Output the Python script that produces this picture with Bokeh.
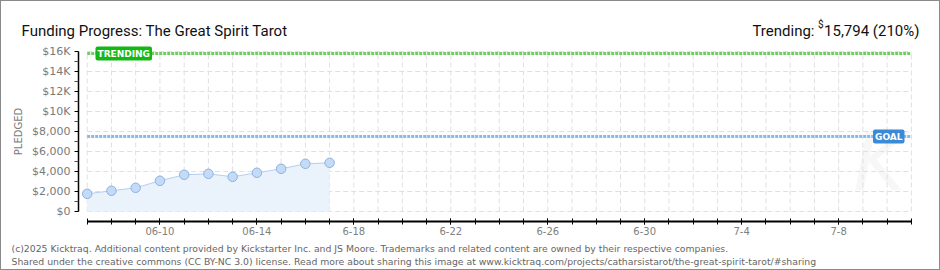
from bokeh.plotting import figure
from bokeh.models import FixedTicker, Label, Range1d, ColumnDataSource
from bokeh.embed import file_html
from bokeh.resources import INLINE

# ---------------- data ----------------
day_labels = ["06-07", "06-08", "06-09", "06-10", "06-11", "06-12",
              "06-13", "06-14", "06-15", "06-16", "06-17"]
pledged = [1770, 2070, 2370, 3070, 3670, 3770, 3470, 3870, 4270, 4770, 4870]
goal = 7500
trending = 15794
trending_pct = 210
campaign_days = 34  # 06-07 .. 07-11

x_tick_days = [3, 7, 11, 15, 19, 23, 27, 31]
x_tick_labels = ["06-10", "06-14", "6-18", "6-22", "6-26", "6-30", "7-4", "7-8"]
y_ticks = [0, 2000, 4000, 6000, 8000, 10000, 12000, 14000, 16000]
y_tick_labels = ["$0", "$2,000", "$4,000", "$6,000", "$8,000",
                 "$10K", "$12K", "$14K", "$16K"]
y_minor = [1000, 3000, 5000, 7000, 9000, 11000, 13000, 15000]

title_text = "Funding Progress: The Great Spirit Tarot"
footer1 = ("(c)2025 Kicktraq. Additional content provided by Kickstarter Inc. and JS Moore. "
           "Trademarks and related content are owned by their respective companies.")
footer2 = ("Shared under the creative commons (CC BY-NC 3.0) license. Read more about sharing "
           "this image at www.kicktraq.com/projects/catharsistarot/the-great-spirit-tarot/#sharing")

days = list(range(len(pledged)))
all_days = list(range(campaign_days + 1))

# ---------------- geometry (canvas px) ----------------
W, H = 940, 270
X0, PX_DAY = 85.7, 24.24      # canvas x of day 0, px per day
Y0, PX_K = 210.0, 10.0        # canvas y of $0, px per $1000
AXIS_X, AXIS_Y = 77, 220      # canvas positions of the y and x axis lines

def day_at(cx):
    return (cx - X0) / PX_DAY

def val_at(cy):
    return (Y0 - cy) / PX_K * 1000

font = "DejaVu Sans"

p = figure(width=W, height=H, output_backend="svg", toolbar_location=None,
           x_range=Range1d(day_at(0), day_at(W)), y_range=Range1d(val_at(H), val_at(0)),
           min_border=0, min_border_left=0, min_border_right=0,
           min_border_top=0, min_border_bottom=0)
p.outline_line_color = None
p.grid.visible = False
p.background_fill_color = "white"
p.border_fill_color = "white"
p.styles = {"border": "1px solid #8a8a8a", "box-sizing": "border-box"}

# gridlines (dashed, light)
p.segment(x0=[0] * len(y_ticks), y0=y_ticks, x1=[campaign_days] * len(y_ticks), y1=y_ticks,
          line_color="#e0e0e0", line_width=1, line_dash="5 3")
p.segment(x0=all_days, y0=[0] * len(all_days), x1=all_days, y1=[16000] * len(all_days),
          line_color="#e0e0e0", line_width=1, line_dash="5 3")

# watermark
p.add_layout(Label(x=day_at(878), y=val_at(207), text="K", text_font=font,
                   text_font_size="80px", text_font_style="italic", text_color="#f7f7f7",
                   text_align="center", text_baseline="bottom", level="underlay"))

# pledged area + line + points
src = ColumnDataSource(dict(day=days, pledged=pledged, base=[0] * len(days)))
p.varea(x="day", y1="base", y2="pledged", source=src, fill_color="#eaf2fc")
p.line(x="day", y="pledged", source=src, line_color="#b3cff0", line_width=1)
p.scatter(x="day", y="pledged", source=src, size=9.5, fill_color="#c3dbf7",
          line_color="#8fb2de", line_width=1)

# trending / goal lines
p.segment(x0=[0], y0=[trending], x1=[campaign_days], y1=[trending],
          line_color="#72cc64", line_width=3, line_dash="3 1")
p.segment(x0=[0], y0=[goal], x1=[campaign_days], y1=[goal],
          line_color="#88baec", line_width=3, line_dash="3 1")

p.add_layout(Label(x=day_at(94), y=trending, text="TRENDING", text_font=font,
                   text_font_size="9px", text_font_style="bold", text_color="white",
                   text_align="left", text_baseline="middle",
                   background_fill_color="#14b814", padding=2, border_radius=2))
p.add_layout(Label(x=day_at(903), y=goal, text="GOAL", text_font=font,
                   text_font_size="9px", text_font_style="bold", text_color="white",
                   text_align="right", text_baseline="middle",
                   background_fill_color="#3a8ad8", padding=2, border_radius=2))

# ---------------- axes (fixed inside the full-canvas frame) ----------------
xa = p.xaxis[0]
xa.fixed_location = val_at(AXIS_Y)
xa.bounds = (0, campaign_days)
xa.ticker = FixedTicker(ticks=x_tick_days, minor_ticks=all_days)
xa.major_label_overrides = {d: l for d, l in zip(x_tick_days, x_tick_labels)}
xa.axis_line_color = "black"
xa.axis_line_width = 2
xa.major_tick_line_color = "black"
xa.minor_tick_line_color = "black"
xa.major_tick_in = 3
xa.major_tick_out = 3
xa.minor_tick_in = 3
xa.minor_tick_out = 3
xa.major_label_text_font = font
xa.major_label_text_font_size = "10px"
xa.major_label_text_color = "#808080"
xa.major_label_standoff = 2

ya = p.yaxis[0]
ya.fixed_location = day_at(AXIS_X)
ya.bounds = (0, 16000)
ya.ticker = FixedTicker(ticks=y_ticks, minor_ticks=y_minor)
ya.major_label_overrides = {t: l for t, l in zip(y_ticks, y_tick_labels)}
ya.axis_line_color = "black"
ya.axis_line_width = 1.5
ya.major_tick_line_color = "black"
ya.major_tick_in = 0
ya.major_tick_out = 4
ya.minor_tick_line_color = "red"
ya.minor_tick_in = 0
ya.minor_tick_out = 4
ya.major_label_text_font = font
ya.major_label_text_font_size = "11px"
ya.major_label_text_color = "#7a7a7a"
ya.major_label_standoff = 4
ya.axis_label = "PLEDGED"
ya.axis_label_text_font = font
ya.axis_label_text_font_size = "10px"
ya.axis_label_text_font_style = "normal"
ya.axis_label_text_color = "#7a7a7a"
ya.axis_label_standoff = 5

# ---------------- texts ----------------
def lab(cx, cy, text, size, color="#111111", align="left", f="Roboto"):
    p.add_layout(Label(x=day_at(cx), y=val_at(cy), text=text, text_font=f,
                       text_font_size=size, text_color=color, text_align=align,
                       text_baseline="alphabetic"))

lab(20, 29, title_text, "15px")
lab(918, 29, f"{trending:,} ({trending_pct}%)", "15px", align="right")
lab(822, 23, "$", "10px", align="right")
lab(813, 29, "Trending:", "15px", align="right")
lab(10, 247, footer1, "9.3px", color="#666666", f=font)
lab(10, 260, footer2, "9.3px", color="#666666", f=font)

open("out.html", "w").write(file_html(p, INLINE))
